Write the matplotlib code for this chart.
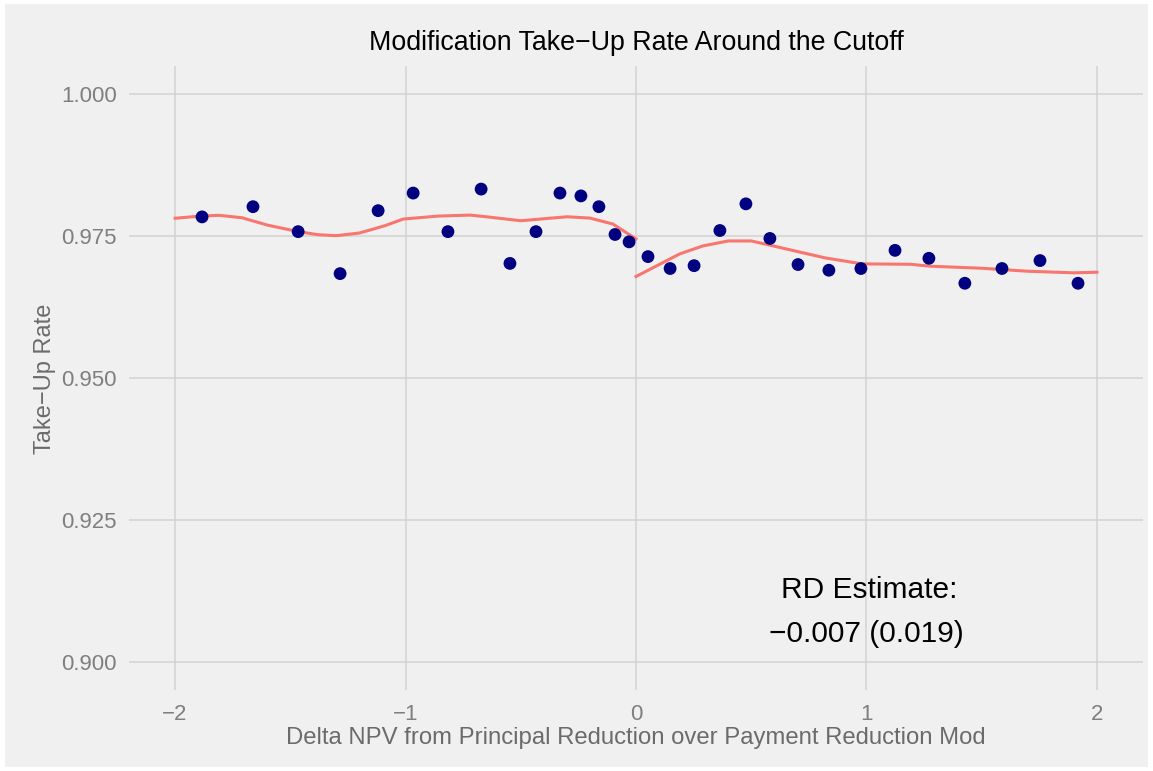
import matplotlib
matplotlib.use("Agg")
import matplotlib.pyplot as plt
from matplotlib.patches import Rectangle

plt.rcParams['font.family'] = ['Liberation Sans', 'DejaVu Sans']

# binned means around the cutoff
bin_x = [-1.883, -1.662, -1.466, -1.284, -1.119, -0.967, -0.816, -0.672, -0.547, -0.434,
         -0.330, -0.239, -0.161, -0.091, -0.030, 0.052, 0.148, 0.252, 0.364, 0.477,
         0.581, 0.703, 0.837, 0.976, 1.124, 1.271, 1.427, 1.588, 1.753, 1.918]
bin_y = [0.9784, 0.9802, 0.9758, 0.9684, 0.9795, 0.9826, 0.9758, 0.9833, 0.9702, 0.9758,
         0.9826, 0.9821, 0.9802, 0.9753, 0.9740, 0.9714, 0.9693, 0.9698, 0.9760, 0.9807,
         0.9746, 0.9700, 0.9690, 0.9693, 0.9725, 0.9711, 0.9667, 0.9693, 0.9707, 0.9667]

# smoothed fits, left and right of zero
left_x = [-2.0, -1.89, -1.81, -1.71, -1.60, -1.47, -1.38, -1.30, -1.20, -1.09,
          -1.01, -0.86, -0.72, -0.63, -0.50, -0.30, -0.20, -0.10, 0.0]
left_y = [0.97816, 0.97854, 0.97868, 0.97825, 0.97696, 0.97584, 0.97526, 0.97509, 0.97556, 0.97684,
          0.97802, 0.97854, 0.97872, 0.97833, 0.97772, 0.97842, 0.97819, 0.97714, 0.97451]
right_x = [0.0, 0.19, 0.29, 0.40, 0.50, 0.59, 0.72, 0.82, 0.98, 1.19, 1.28, 1.50, 1.70, 1.90, 2.0]
right_y = [0.96789, 0.97188, 0.97328, 0.97416, 0.97416, 0.97333, 0.97211, 0.97118, 0.97012,
           0.97005, 0.96970, 0.96935, 0.96882, 0.96854, 0.96865]

x_ticks = [-2, -1, 0, 1, 2]
x_labels = ['\u22122', '\u22121', '0', '1', '2']
y_ticks = [0.900, 0.925, 0.950, 0.975, 1.000]
y_labels = ['0.900', '0.925', '0.950', '0.975', '1.000']

bg = '#F0F0F0'
fig = plt.figure(figsize=(11.53, 7.71), dpi=100, facecolor='white')
fig.patches.append(Rectangle((5 / 1153, 4 / 771), 1143 / 1153, 763 / 771,
                             transform=fig.transFigure, facecolor=bg, edgecolor='none', zorder=-10))
ax = fig.add_axes([129 / 1153, 1 - 690 / 771, 1014 / 1153, 624 / 771])
ax.set_facecolor(bg)

ax.plot(left_x, left_y, color='#F8766D', linewidth=2.2, zorder=3)
ax.plot(right_x, right_y, color='#F8766D', linewidth=2.2, zorder=3)
ax.scatter(bin_x, bin_y, s=85, color='#000080', edgecolors='none', zorder=4)

ax.set_xlim(-2.2, 2.2)
ax.set_ylim(0.895, 1.005)
ax.set_xticks(x_ticks)
ax.set_xticklabels(x_labels)
ax.set_yticks(y_ticks)
ax.set_yticklabels(y_labels)
ax.grid(True, color='#D2D2D2', linewidth=1.1)
ax.set_axisbelow(True)
for s in ax.spines.values():
    s.set_visible(False)
ax.tick_params(length=0, labelsize=16, labelcolor='#7F7F7F')
ax.tick_params(axis='x', pad=10)
ax.tick_params(axis='y', pad=8.6)

fig.text(636 / 1153, 1 - 43 / 771, 'Modification Take\u2212Up Rate Around the Cutoff',
         fontsize=19.3, color='black', ha='center', va='center')
fig.text(636 / 1153, 1 - 738 / 771, 'Delta NPV from Principal Reduction over Payment Reduction Mod',
         fontsize=17.2, color='#6B6B6B', ha='center', va='center')
fig.text(45 / 1153, 1 - 379 / 771, 'Take\u2212Up Rate', rotation=90,
         fontsize=17, color='#6B6B6B', ha='center', va='center')

ax.text(1.01, 0.9127, 'RD Estimate:', fontsize=21.5, ha='center', va='center', color='black')
ax.text(1.0, 0.9048, '\u22120.007 (0.019)', fontsize=21.5, ha='center', va='center', color='black')

fig.savefig('out.png', dpi=100, facecolor=fig.get_facecolor())
